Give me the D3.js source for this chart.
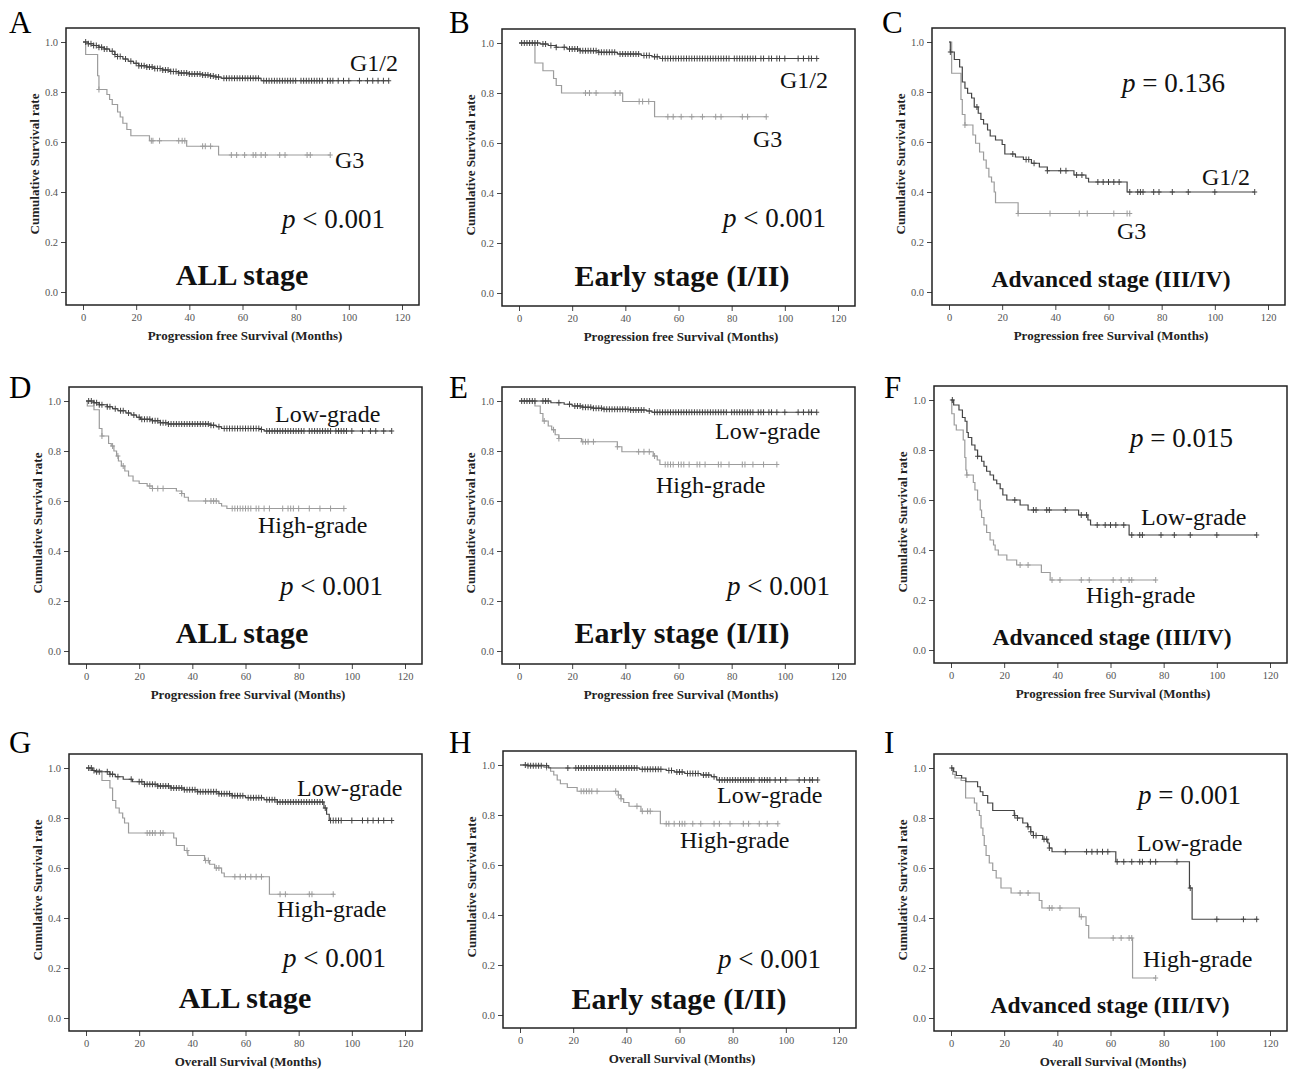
<!DOCTYPE html>
<html>
<head>
<meta charset="utf-8">
<title>Kaplan-Meier curves by grade</title>
<script src="https://d3js.org/d3.v7.min.js"></script>
<style>
  body { margin: 0; background: #fff; }
  svg text { font-family: "Liberation Serif", "Times New Roman", serif; }
</style>
</head>
<body>
<div id="graph"></div>
<script>
// ---- data ----
var xTicks = [0, 20, 40, 60, 80, 100, 120];
var yTicks = [0, 0.2, 0.4, 0.6, 0.8, 1.0];
var panelLetters = ["A", "B", "C", "D", "E", "F", "G", "H", "I"];
var xTitles = ["Progression free Survival (Months)", "Progression free Survival (Months)", "Progression free Survival (Months)",
               "Progression free Survival (Months)", "Progression free Survival (Months)", "Progression free Survival (Months)",
               "Overall Survival (Months)", "Overall Survival (Months)", "Overall Survival (Months)"];
var yTitle = "Cumulative Survival rate";
var stageLabels = ["ALL stage", "Early stage (I/II)", "Advanced stage (III/IV)",
                   "ALL stage", "Early stage (I/II)", "Advanced stage (III/IV)",
                   "ALL stage", "Early stage (I/II)", "Advanced stage (III/IV)"];
var pValues = ["< 0.001", "< 0.001", "= 0.136", "< 0.001", "< 0.001", "= 0.015", "< 0.001", "< 0.001", "= 0.001"];
var groupNames = [["G1/2", "G3"], ["G1/2", "G3"], ["G1/2", "G3"],
                  ["Low-grade", "High-grade"], ["Low-grade", "High-grade"], ["Low-grade", "High-grade"],
                  ["Low-grade", "High-grade"], ["Low-grade", "High-grade"], ["Low-grade", "High-grade"]];

// step curves: [month, survival from that month on]; censored months
var aG12 = [[0,1],[2,0.993],[4,0.986],[6,0.979],[8,0.972],[10,0.963],[12,0.95],[13,0.942],[15,0.932],[17,0.923],[19,0.915],[21,0.905],[24,0.9],[27,0.894],[30,0.888],[33,0.882],[36,0.876],[40,0.872],[45,0.868],[48,0.864],[50,0.86],[52,0.855],[67,0.845],[115,0.845]];
var aG12Cens = [1,2,3,4,5,6,7,8,9,11,12,13,14,16,18,20,21,22,23,24,25,26,27,28,29,30,31,32,33,34,35,36,37,38,39,40,41,42,43,44,45,46,47,48,49,50,51,53,54,55,56,57,58,59,60,61,62,63,64,65,66,68,69,70,71,72,73,74,75,76,77,78,79,80,82,83,84,85,86,87,88,89,90,92,93,94,96,98,100,104,107,109,111,113,115];
var aG3 = [[0,1],[1,0.95],[5.5,0.865],[6,0.81],[9,0.79],[10,0.77],[11,0.75],[13,0.72],[14,0.7],[15,0.675],[16.5,0.65],[18,0.625],[25,0.605],[39,0.583],[51,0.548],[93,0.548]];
var aG3Cens = [6,25.7,26.3,28.8,36,37.3,38.3,45,46,48,55.8,57.8,60.8,64,65,67,68.6,74,76,84.3,85.5,93];

var bG12 = [[0,1],[8,0.996],[11,0.99],[14,0.983],[18,0.976],[23,0.969],[30,0.963],[37,0.956],[46,0.95],[50,0.945],[53,0.938],[112,0.938]];
var bG12Cens = [1,2,3,4,5,6,7,9,10,12,14,17,19,20,21,22,23,24,25,26,27,28,29,30,31,32,33,34,35,36,38,39,40,41,42,43,44,45,47,48,49,51,52,54,55,56,57,58,59,60,61,62,63,64,65,66,67,68,69,70,71,72,73,74,75,76,77,78,79,81,82,83,84,85,86,87,88,89,91,92,94,95,97,98,100,105,107,109,110,112];
var bG3 = [[0,1],[6,0.92],[9,0.889],[13,0.858],[14,0.83],[16,0.8],[39,0.766],[51,0.705],[93,0.705]];
var bG3Cens = [25,26.5,29,36.2,38,45.2,46.5,48.8,56,58,61,65,69,74,76,84,86,93];

var cG12 = [[0,1],[0.5,0.96],[2,0.93],[4,0.9],[5,0.84],[6,0.815],[7,0.795],[8.5,0.776],[9.5,0.74],[11,0.715],[12,0.69],[13,0.672],[14.5,0.648],[15.5,0.624],[17.5,0.608],[20,0.59],[21,0.552],[25,0.54],[28,0.53],[31,0.515],[34,0.5],[37,0.485],[47,0.468],[51.5,0.455],[52.5,0.44],[67,0.4],[115,0.4]];
var cG12Cens = [0.5,10.5,24,29,30,32,37,42,44,48,50,56,58,60,62,64,68,71,72,73,77,79,84,90,100,115];
var cG3 = [[0,1],[1,0.875],[4.5,0.77],[5,0.71],[6,0.668],[9,0.628],[10,0.595],[11.5,0.56],[13,0.528],[14,0.495],[15,0.46],[16,0.44],[17,0.4],[17.5,0.357],[26,0.314],[68,0.314]];
var cG3Cens = [6,26,38,49,52,62,67,68];

var dLow = [[0,1],[3,0.993],[5,0.985],[8,0.977],[10,0.969],[12,0.961],[15,0.952],[17,0.944],[19,0.935],[20.5,0.927],[25,0.921],[28,0.913],[31,0.908],[47,0.903],[49,0.897],[51,0.89],[66,0.886],[67,0.88],[115,0.88]];
var dLowCens = [1,2,3,4,5,6,8,9,11,13,14,16,18,20,21,22,23,24,25,26,27,28,29,30,31,32,33,34,35,36,37,38,39,40,41,42,43,44,45,46,47,48,50,52,53,54,55,56,57,58,59,60,61,62,63,64,65,66,68,69,70,71,72,73,74,75,76,77,78,79,80,81,82,84,85,86,87,88,89,90,91,92,94,95,96,97,98,100,104,107,109,112,115];
var dHigh = [[0,1],[0.5,0.98],[3,0.965],[5,0.89],[6,0.86],[8.5,0.83],[9.5,0.82],[10.5,0.8],[11.5,0.78],[12.2,0.76],[13.3,0.74],[14.6,0.72],[16,0.7],[17.7,0.68],[20,0.67],[23,0.66],[25,0.65],[34,0.64],[36,0.63],[37,0.615],[38.5,0.6],[50,0.59],[51,0.58],[53,0.57],[98,0.57]];
var dHighCens = [6,10,12,14,24,25,27,29,36,45,47,48,49,55,56,57,58,59,60,61,62,64,65,67,69,74,76,77,78,80,84,88,92,97];

var eLow = [[0,1],[12,0.993],[17,0.987],[20,0.98],[24,0.975],[28,0.971],[32,0.967],[42,0.964],[48,0.96],[50,0.955],[112,0.955]];
var eLowCens = [1,2,3,4,5,6,9,10,11,15,19,21,22,23,24,25,26,27,28,29,30,31,32,33,34,35,36,37,38,39,40,41,42,43,44,45,46,47,49,51,52,53,54,55,56,57,58,59,60,61,62,63,64,65,66,67,68,69,70,71,72,73,74,75,76,77,78,80,81,82,83,84,85,86,87,88,90,91,92,94,95,97,100,105,107,109,110,112];
var eHigh = [[0,1],[6,0.98],[8,0.95],[9,0.92],[11,0.9],[12.3,0.885],[13.6,0.865],[15,0.85],[23.5,0.837],[37,0.817],[38.7,0.797],[50.5,0.78],[52,0.764],[53,0.746],[97,0.746]];
var eHighCens = [9.5,13,15,24,25,26,28,37,45,47,49,51,55,56,57,58,60,61,62,64,67,68,70,75,76,79,84,85,88,92,97];

var fLow = [[0,1],[1,0.98],[3,0.96],[4.3,0.93],[5.3,0.915],[6,0.87],[6.5,0.85],[7.8,0.82],[9,0.8],[10,0.775],[11.5,0.755],[12.4,0.735],[13.4,0.715],[14.7,0.7],[16,0.68],[17.2,0.665],[18.5,0.645],[19.5,0.62],[21,0.6],[26,0.58],[29,0.56],[48,0.54],[51.5,0.52],[52.5,0.5],[67,0.46],[115,0.46]];
var fLowCens = [0.5,10,24,31,32,36,37,43,49,51,55,58,60,62,65,68,71,72,79,84,90,100,115];
var fHigh = [[0,1],[0.3,0.945],[1.2,0.9],[2,0.88],[4.6,0.84],[5.2,0.77],[5.6,0.72],[5.9,0.7],[8.4,0.67],[9,0.64],[10,0.6],[11,0.56],[11.5,0.53],[12.4,0.5],[13.4,0.47],[14.7,0.44],[16,0.42],[16.6,0.4],[17.8,0.38],[21,0.36],[24.7,0.34],[34,0.31],[37.3,0.28],[77,0.28]];
var fHighCens = [6,26,29,38,41,49,52,61,64,67,68,77];

var gLow = [[0,1],[2.5,0.99],[3.5,0.985],[9,0.975],[11,0.965],[14,0.955],[17.5,0.945],[22,0.935],[27,0.928],[32,0.92],[37,0.913],[42,0.905],[50,0.897],[55,0.889],[60,0.881],[67,0.873],[72,0.864],[89.5,0.84],[90.5,0.815],[91.5,0.79],[115.5,0.79]];
var gLowCens = [1,2,3,4,5,8,9,10,12,17,20,21,22,23,24,25,26,27,28,29,30,31,32,33,34,35,36,37,38,39,40,41,42,43,44,45,46,47,48,49,50,51,52,53,54,55,56,57,58,59,61,62,63,64,65,66,68,69,70,71,72,73,74,75,76,77,78,79,80,81,82,83,84,85,86,87,88,89,90,92,93,94,95,96,100,104,106,108,110,112,115];
var gHigh = [[0,1],[1.5,0.99],[6,0.95],[9,0.92],[10,0.87],[11.2,0.84],[12.5,0.82],[13.8,0.8],[14.5,0.78],[16,0.74],[33,0.72],[34,0.69],[37,0.67],[38.3,0.65],[44.6,0.63],[46.5,0.615],[48.4,0.6],[51,0.58],[52,0.565],[69,0.495],[93.5,0.495]];
var gHighCens = [23,24,25,26,28,29,38,45,46,49,50,56,58,60,62,64,66,73,75,84,85,93];

var hLow = [[0,1],[3,0.997],[10.8,0.988],[45,0.983],[55,0.978],[58,0.972],[62,0.966],[68,0.96],[72,0.953],[74,0.94],[112,0.94]];
var hLowCens = [2,3,4,5,6,7,8,10,18,21,22,23,24,25,26,27,28,29,30,31,32,33,34,35,36,37,38,39,40,41,42,43,44,46,47,48,49,50,51,52,53,56,57,59,60,61,63,64,65,66,67,69,70,71,73,75,76,77,78,79,80,81,82,83,84,85,86,87,88,90,91,92,93,94,96,98,100,105,107,109,110,112];
var hHigh = [[0,1],[9,0.99],[11.5,0.975],[12.7,0.96],[14,0.94],[15.2,0.925],[17.8,0.91],[21.5,0.895],[37,0.88],[38,0.865],[39,0.85],[41,0.835],[45.5,0.815],[52.8,0.765],[97,0.765]];
var hHighCens = [10,23,24,25,26,27,29,36,37,38,44,46,48,49,55,56,58,60,61,62,65,68,73,75,79,84,86,90,93,97];

var iLow = [[0,1],[1,0.985],[2,0.97],[4,0.96],[5.6,0.945],[10,0.925],[11,0.905],[12,0.89],[13.8,0.86],[15.7,0.83],[23.8,0.81],[25,0.8],[27,0.78],[28.8,0.765],[30,0.745],[31,0.73],[34.5,0.715],[36.4,0.7],[37,0.68],[38,0.665],[62,0.625],[89.7,0.52],[90.7,0.395],[115.4,0.395]];
var iLowCens = [0.3,24,25,29,30,31,32,35,36,37,43,51,53,55,57,59,62.5,65,68,71,72,75,77,85,90,100,110,115];
var iHigh = [[0,1],[0.6,0.975],[1.5,0.96],[3.8,0.95],[5.5,0.88],[8.8,0.86],[9.7,0.83],[10.7,0.81],[11.3,0.76],[12,0.73],[12.5,0.69],[13.2,0.65],[14.4,0.62],[15.7,0.59],[17,0.56],[18.8,0.52],[22.6,0.5],[33.2,0.47],[34.2,0.44],[48.3,0.405],[50.8,0.37],[51.8,0.32],[68.3,0.16],[77,0.16]];
var iHighCens = [26,29,37,38,41,49,61,64,67,68,77];

var curves = [
  [[aG12, aG12Cens], [aG3, aG3Cens]],
  [[bG12, bG12Cens], [bG3, bG3Cens]],
  [[cG12, cG12Cens], [cG3, cG3Cens]],
  [[dLow, dLowCens], [dHigh, dHighCens]],
  [[eLow, eLowCens], [eHigh, eHighCens]],
  [[fLow, fLowCens], [fHigh, fHighCens]],
  [[gLow, gLowCens], [gHigh, gHighCens]],
  [[hLow, hLowCens], [hHigh, hHighCens]],
  [[iLow, iLowCens], [iHigh, iHighCens]]
];

// ---- layout ----
var W = 1289, H = 1070;
var frameW = 353, frameH = 277;
// frame top-left of each panel
var frames = [[66,28],[502,29],[932,28],[69,387],[502,387],[934,386],[69,754],[503,751],[934,754]];
var letterPos = [[9,33],[449,33],[882,33],[9,398],[449,398],[884,398],[9,753],[449,753],[884,753]];
// text offsets from frame corner: [dx, baseline dy]
var grp1Pos = [[284,43],[278,59],[270,157],[206,35],[213,52],[207,139],[228,42],[214,52],[203,97]];
var grp2Pos = [[269,140],[251,118],[185,211],[189,146],[154,106],[152,217],[208,163],[177,97],[209,213]];
var pPos = [[216,200],[221,198],[190,64],[211,208],[225,208],[196,61],[214,213],[215,217],[204,50]];
var stagePos = [[176,257],[180,257],[179,259],[173,256],[180,256],[178,259],[176,254],[176,258],[176,259]];
var colors = ["#444", "#9c9c9c"];

var svg = d3.select("#graph").append("svg")
    .attr("width", W)
    .attr("height", H);

panelLetters.forEach(function(letter, i) {
  var fx = frames[i][0], fy = frames[i][1];

  var x = d3.scaleLinear().domain([0, 120]).range([fx + 17, fx + 336]);
  var y = d3.scaleLinear().domain([0, 1]).range([fy + 264, fy + 14]);

  // panel letter
  svg.append("text")
    .attr("x", letterPos[i][0]).attr("y", letterPos[i][1])
    .style("font-size", "31px")
    .text(letter);

  // axes
  var yAxis = svg.append("g")
    .attr("transform", "translate(" + fx + ",0)")
    .call(d3.axisLeft(y).tickValues(yTicks).tickFormat(d3.format(".1f")).tickSize(5).tickPadding(3));
  var xAxis = svg.append("g")
    .attr("transform", "translate(0," + (fy + frameH) + ")")
    .call(d3.axisBottom(x).tickValues(xTicks).tickSize(5).tickPadding(4));
  [xAxis, yAxis].forEach(function(ax) {
    ax.select(".domain").remove();
    ax.selectAll(".tick line").attr("stroke", "#444");
    ax.selectAll(".tick text")
      .attr("fill", "#555")
      .style("font-family", "'Liberation Serif', serif")
      .style("font-size", "10.5px");
  });

  // frame
  svg.append("rect")
    .attr("x", fx).attr("y", fy)
    .attr("width", frameW).attr("height", frameH)
    .attr("fill", "none")
    .attr("stroke", "#222")
    .attr("stroke-width", 1.5);

  // axis titles
  svg.append("text")
    .attr("x", fx + 179).attr("y", fy + frameH + 35)
    .attr("text-anchor", "middle")
    .style("font-size", "13px").style("font-weight", "bold").attr("fill", "#222")
    .text(xTitles[i]);
  svg.append("text")
    .attr("transform", "translate(" + (fx - 27) + "," + (fy + 136) + ") rotate(-90)")
    .attr("text-anchor", "middle")
    .style("font-size", "13px").style("font-weight", "bold").attr("fill", "#222")
    .text(yTitle);

  // curves (light group drawn first so dark sits on top)
  var line = d3.line()
    .x(function(d) { return x(d[0]); })
    .y(function(d) { return y(d[1]); })
    .curve(d3.curveStepAfter);

  [1, 0].forEach(function(k) {
    var steps = curves[i][k][0], cens = curves[i][k][1];
    var col = colors[k];
    svg.append("path")
      .datum(steps)
      .attr("d", line)
      .attr("fill", "none")
      .attr("stroke", col)
      .attr("stroke-width", 1.2);

    var bis = d3.bisector(function(d) { return d[0]; }).right;
    svg.append("g").selectAll("path")
      .data(cens)
      .enter()
      .append("path")
      .attr("transform", function(t) {
        var s = steps[Math.max(0, bis(steps, t) - 1)][1];
        return "translate(" + x(t) + "," + y(s) + ")";
      })
      .attr("d", "M-2.5,0H2.5M0,-3V3")
      .attr("stroke", col)
      .attr("stroke-width", 1);
  });

  // group labels
  svg.append("text")
    .attr("x", fx + grp1Pos[i][0]).attr("y", fy + grp1Pos[i][1])
    .style("font-size", "24px").attr("fill", "#111")
    .text(groupNames[i][0]);
  svg.append("text")
    .attr("x", fx + grp2Pos[i][0]).attr("y", fy + grp2Pos[i][1])
    .style("font-size", "24px").attr("fill", "#111")
    .text(groupNames[i][1]);

  // p value
  var pt = svg.append("text")
    .attr("x", fx + pPos[i][0]).attr("y", fy + pPos[i][1])
    .style("font-size", "27px").attr("fill", "#111");
  pt.append("tspan").style("font-style", "italic").text("p");
  pt.append("tspan").text(" " + pValues[i]);

  // stage label
  svg.append("text")
    .attr("x", fx + stagePos[i][0]).attr("y", fy + stagePos[i][1])
    .attr("text-anchor", "middle")
    .style("font-size", stageLabels[i].length > 20 ? "23.5px" : "30px")
    .style("font-weight", "bold").attr("fill", "#111")
    .text(stageLabels[i]);
});
</script>
</body>
</html>
